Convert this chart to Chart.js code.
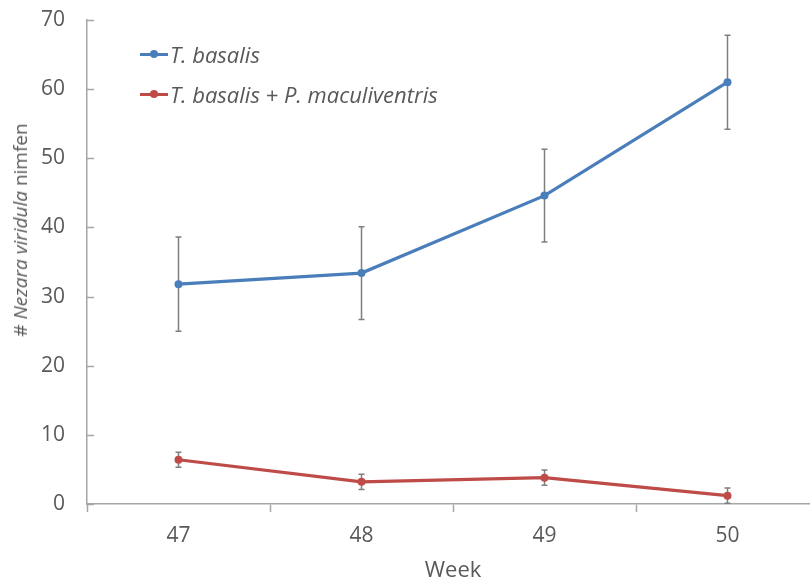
<!DOCTYPE html>
<html>
<head>
<meta charset="utf-8">
<script src="https://cdn.jsdelivr.net/npm/chart.js@4/dist/chart.umd.min.js"></script>
<style>
    html, body { margin: 0; padding: 0; background: #fff; }
    body { width: 810px; height: 584px; overflow: hidden; position: relative; font-family: 'Open Sans', sans-serif; }
    #wrap { position: absolute; left: 0; top: 0; width: 823px; height: 584px; }
    #yTitle {
        position: absolute; left: 20px; top: 230px;
        transform: translate(-50%, -50%) rotate(-90deg);
        white-space: nowrap; font-size: 19px; color: #595959;
    }
    .legend-item { position: absolute; left: 140px; height: 28px; display: flex; align-items: center; white-space: nowrap; }
    .legend-item .mark { position: relative; width: 28px; height: 3px; margin-right: 2px; }
    .legend-item .mark i { position: absolute; left: 10px; top: -2.5px; width: 8px; height: 8px; border-radius: 50%; }
    .legend-item span { font-style: italic; font-size: 22px; color: #595959; }
</style>
</head>
<body>
<div id="wrap"><canvas id="nymphChart"></canvas></div>
<div id="yTitle"># <i>Nezara viridula</i> nimfen</div>
<div id="legend"></div>

<script>
// Chart data
const weeks = ['47', '48', '49', '50'];
const seriesNames = ['T. basalis', 'T. basalis + P. maculiventris'];
const basalisValues = [31.8, 33.4, 44.6, 61.0];
const basalisErrors = [6.8, 6.7, 6.7, 6.8];
const comboValues = [6.4, 3.2, 3.8, 1.2];
const comboErrors = [1.1, 1.1, 1.1, 1.1];
const yTicks = [0, 10, 20, 30, 40, 50, 60, 70];

const colors = ['#4a7ebb', '#be4b48'];
const axisColor = '#a6a6a6';
const textColor = '#595959';

/**
 * Draw error bars behind the lines, using the chart's scales
 */
const errorBarPlugin = {
    id: 'errorBars',
    beforeDatasetsDraw(chart) {
        const ctx = chart.ctx;
        const x = chart.scales.x;
        const y = chart.scales.y;
        ctx.save();
        ctx.strokeStyle = '#7f7f7f';
        ctx.lineWidth = 1.5;
        chart.data.datasets.forEach(ds => {
            ds.data.forEach((v, i) => {
                const px = x.getPixelForValue(i);
                const top = y.getPixelForValue(v + ds.errors[i]);
                const bot = y.getPixelForValue(v - ds.errors[i]);
                ctx.beginPath();
                ctx.moveTo(px, top);
                ctx.lineTo(px, bot);
                ctx.moveTo(px - 3, top);
                ctx.lineTo(px + 3, top);
                ctx.moveTo(px - 3, bot);
                ctx.lineTo(px + 3, bot);
                ctx.stroke();
            });
        });
        ctx.restore();
    },
    // inward tick marks on the value axis
    afterDraw(chart) {
        const ctx = chart.ctx;
        const y = chart.scales.y;
        const left = chart.chartArea.left;
        ctx.save();
        ctx.strokeStyle = axisColor;
        ctx.lineWidth = 1.5;
        y.ticks.forEach(t => {
            const py = Math.round(y.getPixelForValue(t.value)) + 0.5;
            ctx.beginPath();
            ctx.moveTo(left, py);
            ctx.lineTo(left + 7, py);
            ctx.stroke();
        });
        ctx.restore();
    }
};

function buildLegend() {
    const box = document.getElementById('legend');
    const tops = [40, 80];
    seriesNames.forEach((name, i) => {
        const item = document.createElement('div');
        item.className = 'legend-item';
        item.style.top = tops[i] + 'px';
        item.innerHTML = '<div class="mark" style="background:' + colors[i] + '"><i style="background:' + colors[i] + '"></i></div><span>' + name + '</span>';
        box.appendChild(item);
    });
}

function initializeChart() {
    const ctx = document.getElementById('nymphChart').getContext('2d');
    const lineStyle = (i) => ({
        borderColor: colors[i],
        backgroundColor: colors[i],
        borderWidth: 3.2,
        pointRadius: 4,
        pointBorderWidth: 0,
        tension: 0,
        fill: false
    });

    new Chart(ctx, {
        type: 'line',
        data: {
            labels: weeks,
            datasets: [
                Object.assign({ label: seriesNames[0], data: basalisValues, errors: basalisErrors }, lineStyle(0)),
                Object.assign({ label: seriesNames[1], data: comboValues, errors: comboErrors }, lineStyle(1))
            ]
        },
        options: {
            responsive: true,
            maintainAspectRatio: false,
            animation: false,
            layout: { padding: { top: 20, right: 1, left: 0, bottom: 0 } },
            plugins: {
                legend: { display: false },
                tooltip: { enabled: false }
            },
            scales: {
                x: {
                    type: 'category',
                    offset: true,
                    grid: {
                        offset: true,
                        drawOnChartArea: false,
                        tickLength: 8,
                        tickColor: axisColor,
                        tickWidth: 1.5
                    },
                    border: { color: axisColor, width: 1.5 },
                    ticks: {
                        color: textColor,
                        font: { family: 'Open Sans', size: 21 },
                        padding: 11,
                        maxRotation: 0
                    },
                    title: {
                        display: true,
                        text: 'Week',
                        color: textColor,
                        font: { family: 'Open Sans', size: 22 },
                        padding: { top: 0, bottom: 0 }
                    },
                    afterFit(scale) {
                        scale.height = 80;
                        scale.paddingLeft = 0;
                        scale.paddingRight = 0;
                    }
                },
                y: {
                    min: 0,
                    max: 70,
                    afterBuildTicks(scale) { scale.ticks = yTicks.map(v => ({ value: v })); },
                    grid: { drawOnChartArea: false, drawTicks: false },
                    border: { color: axisColor, width: 1.5 },
                    ticks: {
                        color: textColor,
                        font: { family: 'Open Sans', size: 21 },
                        padding: 22
                    },
                    afterFit(scale) {
                        scale.width = 87;
                        scale.paddingTop = 0;
                        scale.paddingBottom = 0;
                    }
                }
            }
        },
        plugins: [errorBarPlugin]
    });
}

document.addEventListener('DOMContentLoaded', function () {
    buildLegend();
    initializeChart();
});
</script>
</body>
</html>
